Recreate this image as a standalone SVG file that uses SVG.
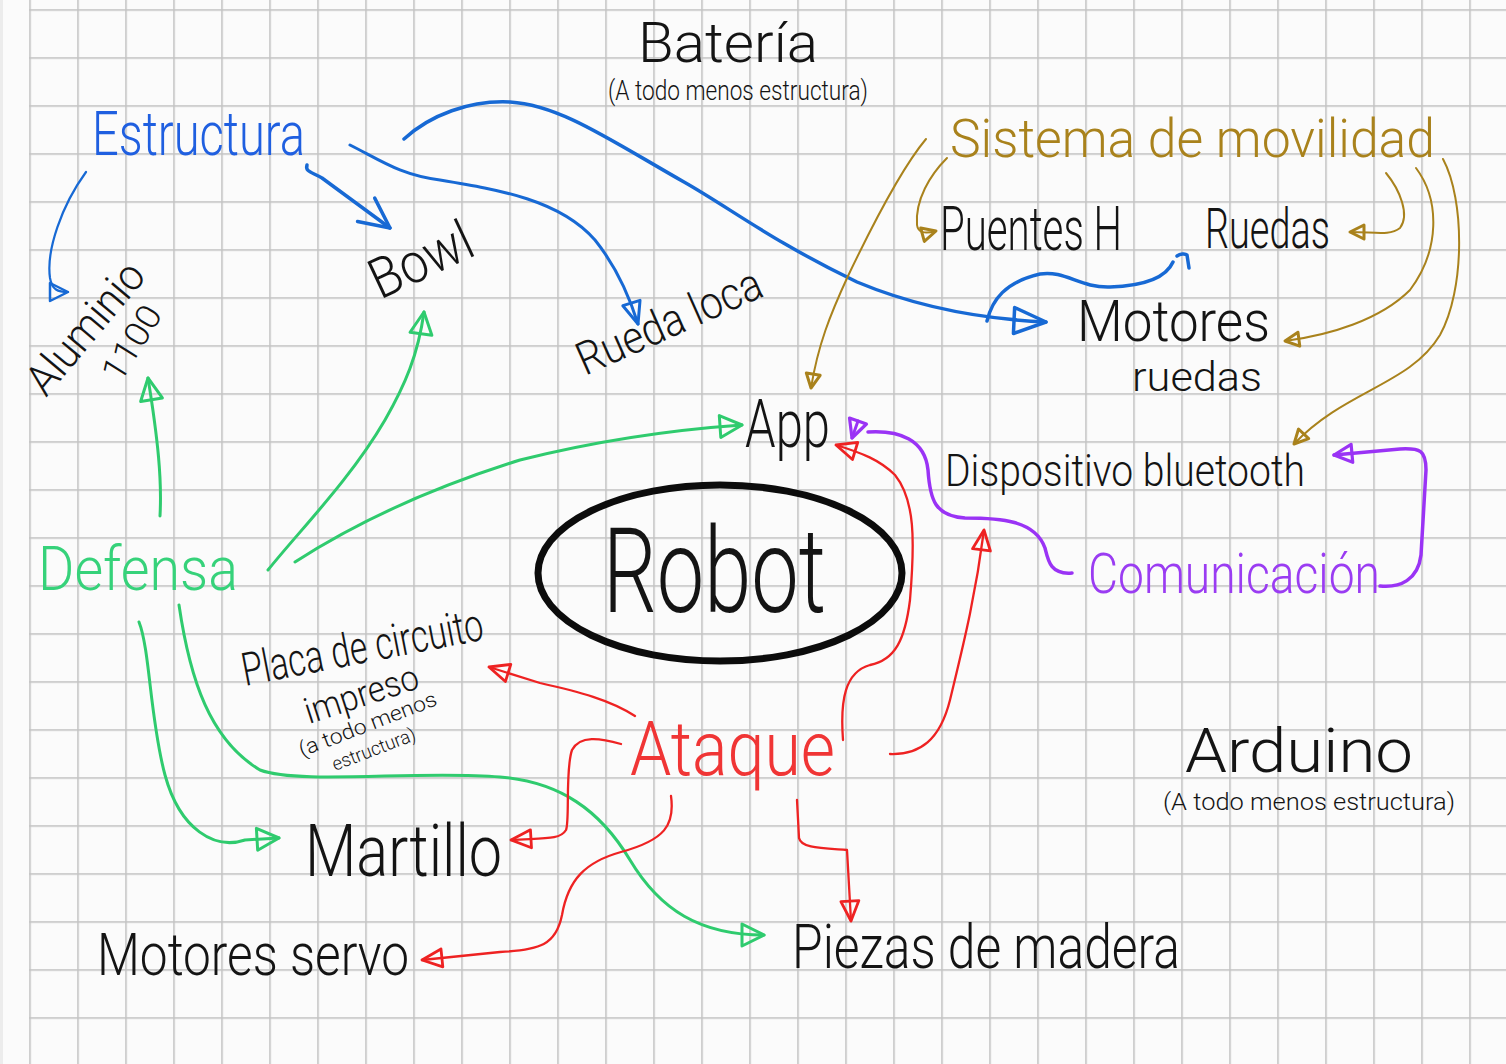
<svg xmlns="http://www.w3.org/2000/svg" width="1506" height="1064" viewBox="0 0 1506 1064">
<style>
.t{font-family:Roboto,"Open Sans","Liberation Sans",sans-serif;font-weight:300;}
.k{fill:#141414;}
.bl{fill:#1f5fe0;}
.gd{fill:#a9821c;}
.gr{fill:#36d27a;}
.rd{fill:#f03535;}
.pu{fill:#9a3cf2;}
.c{fill:none;stroke-linecap:round;stroke-linejoin:round;}
.cb{stroke:#1769d4;stroke-width:3.5;}
.cg{stroke:#a9821c;stroke-width:2;}
.cgr{stroke:#2fcb6e;stroke-width:3;}
.cr{stroke:#ee2222;stroke-width:2.3;}
.cp{stroke:#9a33f5;stroke-width:3.5;}
</style>
<defs>
<pattern id="grid" patternUnits="userSpaceOnUse" x="29.2" y="9.2" width="48" height="48">
<rect x="0" y="0" width="48" height="1.6" fill="#c4c4c4"/>
<rect x="0" y="0" width="1.6" height="48" fill="#c4c4c4"/>
</pattern>
<marker id="mBlueBig" viewBox="-40 -20 44 40" markerWidth="44" markerHeight="40" refX="0" refY="0" orient="auto" markerUnits="userSpaceOnUse" overflow="visible"><path d="M0,0 L-32,-13 L-32,13 Z" fill="none" stroke="#1769d4" stroke-width="3.5" stroke-linejoin="round"/></marker>
<marker id="mBlueMed" viewBox="-40 -20 44 40" markerWidth="44" markerHeight="40" refX="0" refY="0" orient="auto" markerUnits="userSpaceOnUse" overflow="visible"><path d="M0,0 L-22,-9 L-22,9 Z" fill="none" stroke="#1769d4" stroke-width="3" stroke-linejoin="round"/></marker>
<marker id="mBlueSm" viewBox="-40 -20 44 40" markerWidth="44" markerHeight="40" refX="0" refY="0" orient="auto" markerUnits="userSpaceOnUse" overflow="visible"><path d="M0,0 L-18,-9 L-18,9 Z" fill="none" stroke="#1769d4" stroke-width="2.5" stroke-linejoin="round"/></marker>
<marker id="mBlueV" viewBox="-40 -20 44 40" markerWidth="44" markerHeight="40" refX="0" refY="0" orient="auto" markerUnits="userSpaceOnUse" overflow="visible"><path d="M-30,-15 L0,0 L-30,14" fill="none" stroke="#1769d4" stroke-width="3.5" stroke-linejoin="round" stroke-linecap="round"/></marker>
<marker id="mGold" viewBox="-40 -20 44 40" markerWidth="44" markerHeight="40" refX="0" refY="0" orient="auto" markerUnits="userSpaceOnUse" overflow="visible"><path d="M0,0 L-14,-7 L-14,7 Z" fill="none" stroke="#a9821c" stroke-width="3" stroke-linejoin="round"/></marker>
<marker id="mGreen" viewBox="-40 -20 44 40" markerWidth="44" markerHeight="40" refX="0" refY="0" orient="auto" markerUnits="userSpaceOnUse" overflow="visible"><path d="M0,0 L-22,-11 L-22,11 Z" fill="none" stroke="#2fcb6e" stroke-width="3" stroke-linejoin="round"/></marker>
<marker id="mRed" viewBox="-40 -20 44 40" markerWidth="44" markerHeight="40" refX="0" refY="0" orient="auto" markerUnits="userSpaceOnUse" overflow="visible"><path d="M0,0 L-20,-9 L-20,9 Z" fill="none" stroke="#ee2222" stroke-width="2.8" stroke-linejoin="round"/></marker>
<marker id="mPurple" viewBox="-40 -20 44 40" markerWidth="44" markerHeight="40" refX="0" refY="0" orient="auto" markerUnits="userSpaceOnUse" overflow="visible"><path d="M0,0 L-18,-9 L-18,9 Z" fill="none" stroke="#9a33f5" stroke-width="3.2" stroke-linejoin="round"/></marker>
</defs>
<rect x="0" y="0" width="1506" height="1064" fill="#fbfbfb"/>
<rect x="0" y="0" width="3" height="1064" fill="#ececec"/>
<rect x="29" y="0" width="1477" height="1064" fill="url(#grid)"/>

<g id="connectors">
<!-- blue -->
<path class="c cb" style="stroke-width:2.2" d="M86,172 C62,205 46,250 50,278 C52,290 58,292 68,292" marker-end="url(#mBlueSm)"/>
<path class="c cb" d="M307,165 C305,172 312,172 322,178 L390,228" marker-end="url(#mBlueV)"/>
<path class="c cb" style="stroke-width:3" d="M350,145 C380,160 400,175 440,180 C500,190 560,200 595,240 C615,265 628,292 638,324" marker-end="url(#mBlueMed)"/>
<path class="c cb" d="M404,139 C430,115 470,100 510,102 C560,105 610,140 684,182 C730,208 770,240 857,282 C900,300 960,318 1046,322" marker-end="url(#mBlueBig)"/>
<path class="c cb" d="M987,321 C992,300 1005,282 1040,274 C1065,270 1080,288 1110,287 C1140,286 1165,280 1173,262 M1177,256 C1180,254 1185,253 1187,255 L1189,268"/>
<!-- gold -->
<path class="c cg" d="M926,139 C900,170 870,230 848,276 C830,315 818,345 811,388" marker-end="url(#mGold)"/>
<path class="c cg" d="M947,158 C930,175 915,200 917,225 C918,233 925,234 936,231" marker-end="url(#mGold)"/>
<path class="c cg" d="M1386,173 C1400,190 1410,215 1400,228 C1390,236 1375,232 1350,232" marker-end="url(#mGold)"/>
<path class="c cg" d="M1416,168 C1440,200 1440,250 1410,290 C1380,320 1330,335 1285,341" marker-end="url(#mGold)"/>
<path class="c cg" d="M1443,159 C1465,200 1465,290 1440,335 C1410,385 1345,390 1294,444" marker-end="url(#mGold)"/>
<!-- green -->
<path class="c cgr" d="M160,516 C162,480 158,440 148,378" marker-end="url(#mGreen)"/>
<path class="c cgr" d="M268,570 C300,530 350,480 385,420 C405,385 418,355 424,312" marker-end="url(#mGreen)"/>
<path class="c cgr" d="M295,562 C360,520 440,485 520,460 C600,440 670,430 742,425" marker-end="url(#mGreen)"/>
<path class="c cgr" d="M139,622 C150,650 150,720 165,775 C180,830 215,850 245,840 L279,838" marker-end="url(#mGreen)"/>
<path class="c cgr" d="M179,605 C190,680 210,740 260,770 C300,785 420,770 500,777 C560,782 600,810 630,860 C660,910 700,935 764,935" marker-end="url(#mGreen)"/>
<!-- red -->
<path class="c cr" d="M635,716 C610,700 580,692 540,683 L489,667" marker-end="url(#mRed)"/>
<path class="c cr" d="M621,744 C600,738 580,735 572,750 C565,770 570,820 566,830 C560,840 545,838 511,840" marker-end="url(#mRed)"/>
<path class="c cr" d="M671,796 C675,825 665,840 621,852 C585,862 568,880 562,915 C556,945 540,950 500,952 L422,960" marker-end="url(#mRed)"/>
<path class="c cr" d="M797,800 L799,838 C801,848 820,848 847,850 L851,921" marker-end="url(#mRed)"/>
<path class="c cr" d="M843,740 C840,700 845,672 870,665 C895,660 905,640 910,600 C915,540 915,500 895,475 C880,460 862,453 836,445" marker-end="url(#mRed)"/>
<path class="c cr" d="M890,754 C920,755 940,740 950,700 C962,650 975,600 984,530" marker-end="url(#mRed)"/>
<!-- purple -->
<path class="c cp" d="M1072,573 C1050,575 1048,560 1045,548 C1035,520 1000,518 965,518 C935,516 930,500 928,470 C925,440 900,430 868,432"/>
<path class="c cp" style="stroke-width:3" d="M858,421 L852,438" marker-end="url(#mPurple)"/>
<path class="c cp" d="M1380,586 C1400,588 1418,580 1421,555 L1426,470 C1426,450 1420,448 1400,449 L1334,455" marker-end="url(#mPurple)"/>
</g>

<g id="node-robot">
<ellipse cx="720" cy="573" rx="182" ry="88" fill="none" stroke="#0c0c0c" stroke-width="7"/>
<text class="t k" x="603" y="612" font-size="118" textLength="223" lengthAdjust="spacingAndGlyphs">Robot</text>
</g>
<g id="node-bateria">
<text class="t k" x="638" y="62" font-size="56" textLength="180" lengthAdjust="spacingAndGlyphs">Batería</text>
<text class="t k" x="608" y="100" font-size="28" textLength="260" lengthAdjust="spacingAndGlyphs">(A todo menos estructura)</text>
</g>
<g id="node-estructura">
<text class="t bl" x="92" y="155" font-size="62" textLength="213" lengthAdjust="spacingAndGlyphs">Estructura</text>
</g>
<g id="node-aluminio">
<text class="t k" x="46" y="398" font-size="44" textLength="158" lengthAdjust="spacingAndGlyphs" transform="rotate(-50 46 398)">Aluminio</text>
<text class="t k" x="120" y="384" font-size="34" textLength="82" lengthAdjust="spacingAndGlyphs" transform="rotate(-58 120 384)">1100</text>
</g>
<g id="node-bowl">
<text class="t k" x="380" y="300" font-size="56" textLength="108" lengthAdjust="spacingAndGlyphs" transform="rotate(-25 380 300)">Bowl</text>
</g>
<g id="node-rueda-loca">
<text class="t k" x="585" y="376" font-size="46" textLength="198" lengthAdjust="spacingAndGlyphs" transform="rotate(-24 585 376)">Rueda loca</text>
</g>
<g id="node-sistema">
<text class="t gd" x="950" y="157" font-size="54" textLength="485" lengthAdjust="spacingAndGlyphs">Sistema de movilidad</text>
</g>
<g id="node-puentes">
<text class="t k" x="940" y="250" font-size="62" textLength="182" lengthAdjust="spacingAndGlyphs">Puentes H</text>
</g>
<g id="node-ruedas">
<text class="t k" x="1205" y="248" font-size="55" textLength="125" lengthAdjust="spacingAndGlyphs">Ruedas</text>
</g>
<g id="node-motores-ruedas">
<text class="t k" x="1077" y="341" font-size="58" textLength="193" lengthAdjust="spacingAndGlyphs">Motores</text>
<text class="t k" x="1132" y="391" font-size="40" textLength="130" lengthAdjust="spacingAndGlyphs">ruedas</text>
</g>
<g id="node-app">
<text class="t k" x="745" y="447" font-size="66" textLength="85" lengthAdjust="spacingAndGlyphs">App</text>
</g>
<g id="node-bluetooth">
<text class="t k" x="945" y="486" font-size="44" textLength="360" lengthAdjust="spacingAndGlyphs">Dispositivo bluetooth</text>
</g>
<g id="node-comunicacion">
<text class="t pu" x="1088" y="593" font-size="56" textLength="292" lengthAdjust="spacingAndGlyphs">Comunicación</text>
</g>
<g id="node-defensa">
<text class="t gr" x="38" y="590" font-size="62" textLength="200" lengthAdjust="spacingAndGlyphs">Defensa</text>
</g>
<g id="node-placa">
<text class="t k" x="245" y="686" font-size="46" textLength="245" lengthAdjust="spacingAndGlyphs" transform="rotate(-11 245 686)">Placa de circuito</text>
<text class="t k" x="309" y="724" font-size="36" textLength="118" lengthAdjust="spacingAndGlyphs" transform="rotate(-18 309 724)">impreso</text>
<text class="t k" x="302" y="757" font-size="21" textLength="146" lengthAdjust="spacingAndGlyphs" transform="rotate(-21 302 757)">(a todo menos</text>
<text class="t k" x="335" y="771" font-size="19" textLength="88" lengthAdjust="spacingAndGlyphs" transform="rotate(-21 335 771)">estructura)</text>
</g>
<g id="node-ataque">
<text class="t rd" x="630" y="775" font-size="76" textLength="205" lengthAdjust="spacingAndGlyphs">Ataque</text>
</g>
<g id="node-arduino">
<text class="t k" x="1185" y="772" font-size="62" textLength="228" lengthAdjust="spacingAndGlyphs">Arduino</text>
<text class="t k" x="1163" y="810" font-size="24" textLength="292" lengthAdjust="spacingAndGlyphs">(A todo menos estructura)</text>
</g>
<g id="node-martillo">
<text class="t k" x="305" y="876" font-size="72" textLength="197" lengthAdjust="spacingAndGlyphs">Martillo</text>
</g>
<g id="node-servo">
<text class="t k" x="97" y="975" font-size="60" textLength="312" lengthAdjust="spacingAndGlyphs">Motores servo</text>
</g>
<g id="node-piezas">
<text class="t k" x="792" y="968" font-size="62" textLength="388" lengthAdjust="spacingAndGlyphs">Piezas de madera</text>
</g>
</svg>
